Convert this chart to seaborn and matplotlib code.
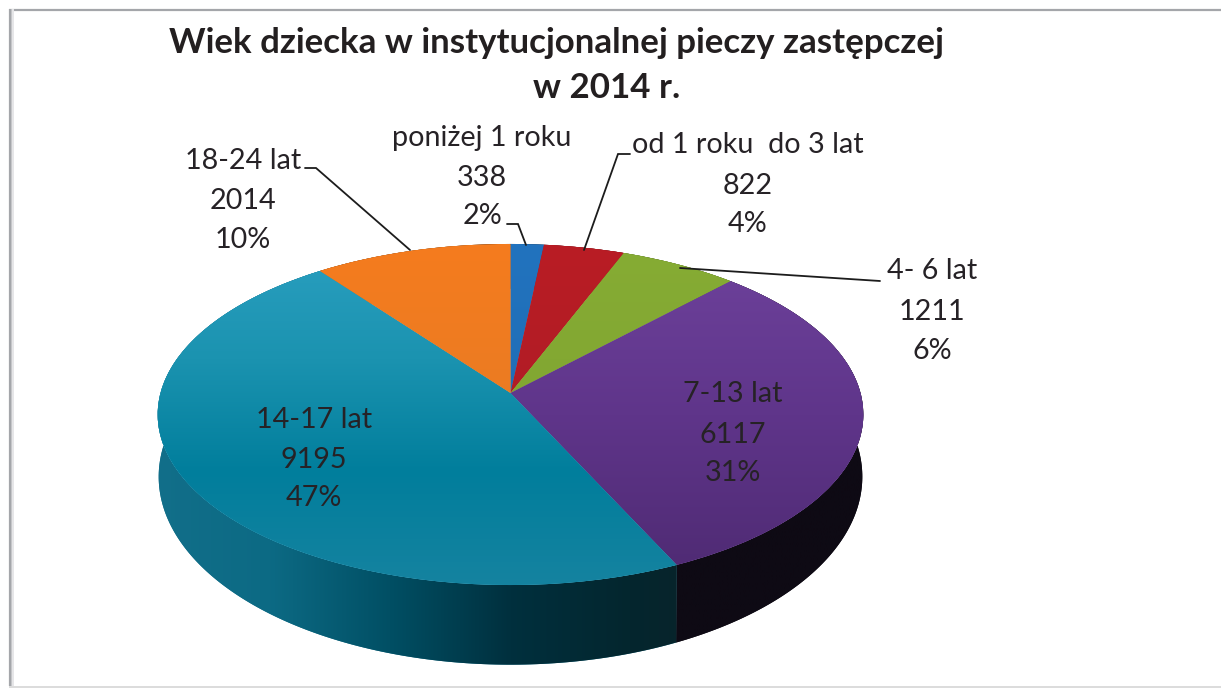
import numpy as np
import matplotlib
matplotlib.use("Agg")
import matplotlib.pyplot as plt
from matplotlib.transforms import Transform
import seaborn as sns

# ---- data ----
categories = ["poniżej 1 roku", "od 1 roku  do 3 lat", "4- 6 lat", "7-13 lat", "14-17 lat", "18-24 lat"]
values = [338, 822, 1211, 6117, 9195, 2014]
title_lines = ["Wiek dziecka w instytucjonalnej pieczy zastępczej", "w 2014 r."]

# ---- style ----
face_ramps = [
    ["#2273BE", "#1C68AE"],
    ["#B91C24", "#A81E28"],
    ["#86AC34", "#7DA030"],
    ["#6E429C", "#5F358A", "#4E2A72"],
    ["#2A9FC0", "#1B93B0", "#017E9C", "#1583A0"],
    ["#F57C1E", "#DF7B28"],
]
side_ramps = [
    ["#123A60", "#123A60"],
    ["#5A0E14", "#5A0E14"],
    ["#3E5418", "#3E5418"],
    ["#0E0A14", "#0E0A14"],
    ["#126F8A", "#0C6A84", "#014F64", "#00303E", "#04262E", "#0C2228", "#0C2228"],
    ["#70380C", "#70380C"],
]
text_color = "#262226"
label_font = "Lato"
label_size = 20.7
title_size = 25.1
CX, CY, K = 510.5, 393.0, 0.126
TOP = dict(a=350.0, b=167.8, off=0.0)
BOTTOM = dict(a=349.0, b=185.0, off=60.0)
label_centers = [482, 748, 932, 733, 314, 243]
label_baselines = [(146, 186, 224), (153, 194, 232), (279, 320, 359),
                   (402, 443, 481), (428, 468, 506), (169, 209, 248)]
leaders = [
    ([507, 518, 526], [224, 224, 245]),
    ([630, 618, 584], [154, 154, 250]),
    ([680, 880], [268, 281]),
    ([305, 316, 410], [168, 168, 250]),
]

sns.set_theme(style="white")
plt.rcParams["font.family"] = [label_font, "DejaVu Sans"]


class Perspective(Transform):
    input_dims = output_dims = 2
    has_inverted = False

    def __init__(self, a, b, off):
        super().__init__()
        self.a, self.b, self.off = a, b, off

    def transform_non_affine(self, xy):
        xy = np.asarray(xy, float)
        d = 1 + K * xy[:, 1]
        return np.column_stack([CX + self.a * xy[:, 0] / d,
                                CY + self.off - self.b * xy[:, 1] / d])


fig = plt.figure(figsize=(12.21, 6.88), dpi=100, facecolor="white")
ax = fig.add_axes([0, 0, 1, 1])

wedges, _ = ax.pie(values, startangle=90, counterclock=False, radius=1,
                   colors=[r[0] for r in face_ramps], wedgeprops=dict(linewidth=0))
ax.set_aspect("auto")
ax.set_xlim(0, 1221)
ax.set_ylim(688, 0)
ax.axis("off")

top_tf = Perspective(**TOP)
bot_tf = Perspective(**BOTTOM)


def ramp(colors, n=256):
    return np.array(sns.blend_palette(colors, n))


X0, X1, Y0, Y1 = 150, 870, 240, 670
for w, face, side in zip(wedges, face_ramps, side_ramps):
    th = np.radians(np.linspace(w.theta1, w.theta2, 200))
    unit = np.column_stack([np.cos(th), np.sin(th)])
    poly = np.vstack([top_tf.transform_non_affine(unit),
                      bot_tf.transform_non_affine(unit)[::-1]])
    s, = ax.fill(poly[:, 0], poly[:, 1], color=ramp(side, 2)[0], lw=0, zorder=1)
    img = ax.imshow(ramp(side)[None, :, :], extent=(X0, X1, Y1, Y0), aspect="auto",
                    interpolation="bilinear", zorder=1.1)
    img.set_clip_path(s)

    w.set_transform(top_tf + ax.transData)
    w.set_zorder(2)
    f = ramp(face)[:, None, :]
    img = ax.imshow(f, extent=(X0, X1, 585, 245), origin="upper", aspect="auto",
                    interpolation="bilinear", zorder=2.1)
    img.set_clip_path(w)

ax.set_xlim(0, 1221)
ax.set_ylim(688, 0)

# frame
ax.plot([9, 1221], [9.5, 9.5], color="#a4a6aa", lw=1.6, zorder=0, solid_capstyle="butt")
for x, c, lw in [(9.5, "#a4a6aa", 1.6), (11.5, "#c4c5c8", 1.4), (13.2, "#e6e6e8", 1.4)]:
    ax.plot([x, x], [9, 686], color=c, lw=lw, zorder=0, solid_capstyle="butt")
ax.plot([9, 1221], [686.5, 686.5], color="#dcdcdc", lw=1.4, zorder=0, solid_capstyle="butt")

# title
ax.text(556, 53, title_lines[0], ha="center", va="baseline", fontsize=title_size,
        fontweight="bold", color="#231F20", zorder=5)
ax.text(607, 98, title_lines[1], ha="center", va="baseline", fontsize=title_size,
        fontweight="bold", color="#231F20", zorder=5)

# labels
total = sum(values)
for name, v, cx, bl in zip(categories, values, label_centers, label_baselines):
    pct = f"{round(100 * v / total)}%"
    for line, y in zip([name, str(v), pct], bl):
        ax.text(cx, y, line, ha="center", va="baseline", fontsize=label_size,
                color=text_color, zorder=5)

for xs, ys in leaders:
    ax.plot(xs, ys, color="#1c1c1c", lw=1.3, zorder=4, solid_joinstyle="miter")

fig.savefig("out.png", dpi=100)
